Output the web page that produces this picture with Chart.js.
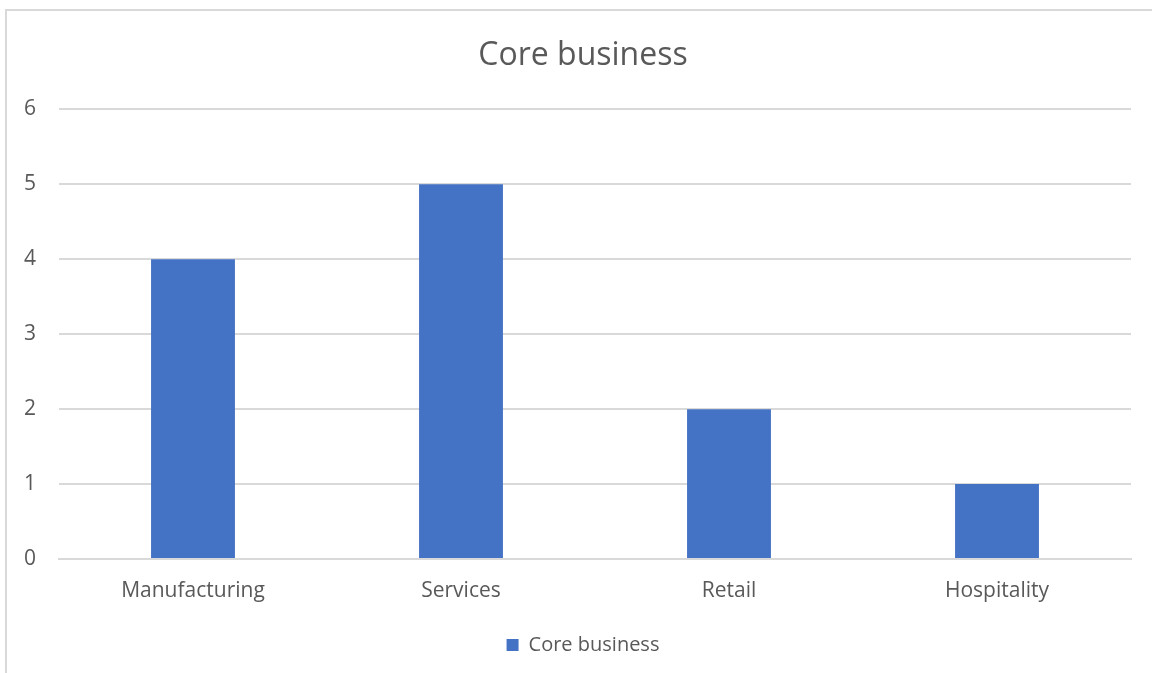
<!DOCTYPE html>
<html>
<head>
<meta charset="utf-8">
<script src="https://cdn.jsdelivr.net/npm/chart.js@4"></script>
<style>
  html, body { margin: 0; padding: 0; background: #fff; overflow: hidden; }
  #wrap { position: relative; width: 1152px; height: 673px; }
  #frame { position: absolute; left: 5px; top: 9px; width: 1200px; height: 700px; border: 2px solid #d9d9d9; box-sizing: border-box; }
  canvas { position: absolute; left: 0; top: 0; }
</style>
</head>
<body>
<div id="wrap">
  <div id="frame"></div>
  <canvas id="c" width="1152" height="673"></canvas>
</div>
<script>
const categories = ["Manufacturing", "Services", "Retail", "Hospitality"];
const seriesName = "Core business";
const values = [4, 5, 2, 1];
const yTicks = [0, 1, 2, 3, 4, 5, 6];

const FONT = "'Open Sans', 'Noto Sans', sans-serif";
const TEXT = "#595959";

new Chart(document.getElementById("c"), {
  type: "bar",
  data: {
    labels: categories,
    datasets: [{
      label: seriesName,
      data: values,
      backgroundColor: "#4472C4",
      borderWidth: 0,
      barPercentage: 1,
      categoryPercentage: 0.313
    }]
  },
  options: {
    responsive: false,
    animation: false,
    devicePixelRatio: 1,
    layout: { padding: { left: 14, right: 0, top: 0, bottom: 8 } },
    plugins: {
      title: {
        display: true,
        text: seriesName,
        color: TEXT,
        font: { family: FONT, size: 32, weight: "normal" },
        padding: { top: 37, bottom: 34 }
      },
      legend: {
        position: "bottom",
        labels: {
          color: TEXT,
          font: { family: FONT, size: 20 },
          boxWidth: 12,
          boxHeight: 12,
          padding: 10
        }
      },
      tooltip: { enabled: false }
    },
    scales: {
      x: {
        grid: { display: false, drawTicks: false },
        border: { color: "#d9d9d9", width: 2 },
        ticks: { color: TEXT, font: { family: FONT, size: 21 }, padding: 19 },
        afterFit: s => { s.height = 66; }
      },
      y: {
        min: 0, max: 6,
        afterBuildTicks: s => { s.ticks = yTicks.map(v => ({ value: v })); },
        grid: { color: "#d9d9d9", lineWidth: 2, drawTicks: false },
        border: { display: false },
        ticks: { color: TEXT, font: { family: FONT, size: 21 }, padding: 23 },
        afterFit: s => { s.width = 45; }
      },
      yRight: {
        position: "right",
        min: 0, max: 6,
        grid: { display: false, drawTicks: false },
        border: { display: false },
        ticks: { display: false },
        afterFit: s => { s.width = 21; }
      }
    }
  }
});
</script>
</body>
</html>
